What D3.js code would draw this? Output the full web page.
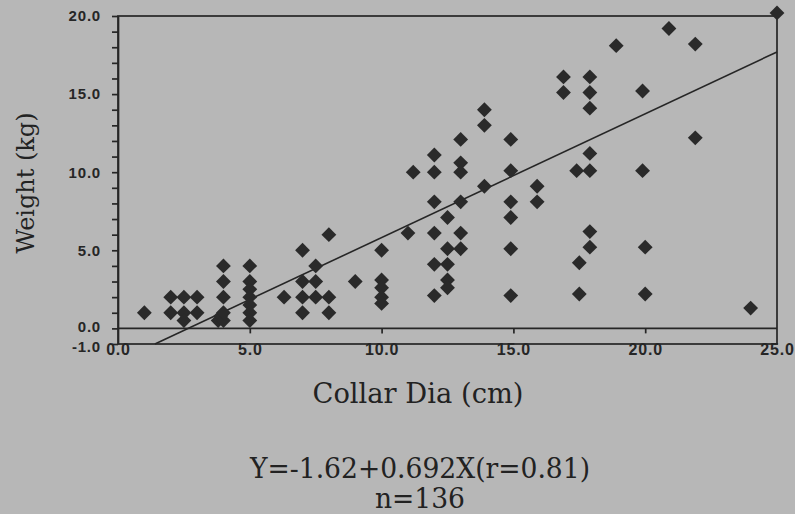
<!DOCTYPE html>
<html lang="en">
<head>
<meta charset="utf-8">
<title>Collar Dia vs Weight</title>
<script src="https://cdn.jsdelivr.net/npm/d3@7"></script>
<style>
  body { margin: 0; background: #b7b7b7; }
  svg { display: block; }
  .axis path, .axis line { stroke: #262626; stroke-width: 1.7; }
  .title { font-family: "DejaVu Serif", "Liberation Serif", serif; fill: #222; }
</style>
</head>
<body>
<script>
// chart values
var collarDia = [1, 2, 2, 2.5, 2.5, 2.5, 3, 3,
  3.8, 3.9, 4, 4, 4, 4, 4,
  5, 5, 5, 5, 5, 5, 5,
  6.3, 7, 7, 7, 7, 7.5, 7.5, 7.5, 8, 8, 8, 9,
  10, 10, 10, 10, 10, 11, 11.2,
  12, 12, 12, 12, 12, 12,
  12.5, 12.5, 12.5, 12.5, 12.5,
  13, 13, 13, 13, 13, 13,
  13.9, 13.9, 13.9,
  14.9, 14.9, 14.9, 14.9, 14.9, 14.9,
  15.9, 15.9, 16.9, 16.9,
  17.4, 17.5, 17.5,
  17.9, 17.9, 17.9, 17.9, 17.9, 17.9, 17.9,
  18.9, 19.9, 19.9, 20, 20, 20.9, 21.9, 21.9, 24, 25];
var weight = [1, 2, 1, 2, 1, 0.5, 2, 1,
  0.5, 0.8, 0.5, 1, 2, 3, 4,
  4, 3, 2.5, 2, 1.5, 1, 0.5,
  2, 5, 3, 2, 1, 4, 3, 2, 6, 2, 1, 3,
  5, 3.1, 2.6, 2, 1.6, 6.1, 10,
  11.1, 10, 8.1, 6.1, 4.1, 2.1,
  7.1, 5.1, 4.1, 3.1, 2.6,
  12.1, 10.6, 10, 8.1, 6.1, 5.1,
  14, 13, 9.1,
  12.1, 10.1, 8.1, 7.1, 5.1, 2.1,
  9.1, 8.1, 16.1, 15.1,
  10.1, 4.2, 2.2,
  16.1, 15.1, 14.1, 11.2, 10.1, 6.2, 5.2,
  18.1, 15.2, 10.1, 5.2, 2.2, 19.2, 18.2, 12.2, 1.3, 20.2];

// fitted line as drawn on the chart
var fitX = [1.4, 25];
var fitY = [-1, 17.7];

var yLabelTicks = [-1, 0, 5, 10, 15, 20];
var xLabelTicks = [0, 5, 10, 15, 20, 25];
var xMarkTicks = [5, 10, 15, 20];

var w = 795, h = 514;
var ink = "#262626";

var svg = d3.select("body").append("svg")
  .attr("width", w)
  .attr("height", h);

svg.append("rect").attr("width", w).attr("height", h).attr("fill", "#b7b7b7");

var xScale = d3.scaleLinear().domain([0, 25]).range([118, 777]);
var yScale = d3.scaleLinear().domain([-1, 20]).range([344, 16]);

// plain hyphen like the print, not the unicode minus
var fmt = function(d) { return d.toFixed(1); };

function styleTicks(g, size) {
  g.selectAll("text")
    .style("font-family", "'Liberation Sans', Arial, sans-serif")
    .style("font-weight", "bold")
    .style("font-size", size + "px")
    .style("letter-spacing", "0.8px")
    .style("fill", ink);
}

// frame
svg.append("rect")
  .attr("x", xScale(0)).attr("y", yScale(20))
  .attr("width", xScale(25) - xScale(0))
  .attr("height", yScale(-1) - yScale(20))
  .attr("fill", "none").attr("stroke", ink).attr("stroke-width", 1.7);

// zero line
svg.append("line")
  .attr("x1", xScale(0)).attr("x2", xScale(25))
  .attr("y1", yScale(0)).attr("y2", yScale(0))
  .attr("stroke", ink).attr("stroke-width", 1.7);

// y axis, a tick every unit, labels at the round ones
var yAxis = d3.axisLeft(yScale)
  .tickValues(d3.range(-1, 21))
  .tickSize(6).tickSizeOuter(0).tickPadding(11)
  .tickFormat(function(d) { return yLabelTicks.indexOf(d) >= 0 ? fmt(d) : ""; });

var yG = svg.append("g").attr("class", "axis")
  .attr("transform", "translate(" + xScale(0) + ",0)")
  .call(yAxis)
  .call(styleTicks, 15);
// the two bottom labels are crowded, nudge them apart a little
yG.selectAll(".tick text")
  .filter(function(d) { return d === -1; }).attr("dy", "0.5em");
yG.selectAll(".tick text")
  .filter(function(d) { return d === 0; }).attr("dy", "0.2em");

// x ticks hang off the zero line
var xAxisMarks = d3.axisBottom(xScale).tickValues(xMarkTicks).tickSize(5).tickFormat("");
svg.append("g").attr("class", "axis")
  .attr("transform", "translate(0," + yScale(0) + ")")
  .call(xAxisMarks)
  .select(".domain").remove();

// x labels sit under the bottom of the frame
var xAxisLabels = d3.axisBottom(xScale).tickValues(xLabelTicks).tickSize(0).tickPadding(0)
  .tickFormat(fmt);
var xLab = svg.append("g").attr("class", "axis")
  .attr("transform", "translate(0," + yScale(-1) + ")")
  .call(xAxisLabels)
  .call(styleTicks, 16);
xLab.select(".domain").remove();

// fitted line
var line = d3.line()
  .x(function(d) { return xScale(d[0]); })
  .y(function(d) { return yScale(d[1]); });
svg.append("path")
  .datum(d3.zip(fitX, fitY))
  .attr("d", line)
  .attr("fill", "none").attr("stroke", ink).attr("stroke-width", 1.6);

// points
var diamond = d3.symbol().type(d3.symbolSquare).size(110);
svg.selectAll(".pt")
  .data(d3.zip(collarDia, weight))
  .enter().append("path")
  .attr("class", "pt")
  .attr("d", diamond)
  .attr("transform", function(d) {
    return "translate(" + xScale(d[0]) + "," + yScale(d[1]) + ") rotate(45)";
  })
  .attr("fill", "#2a2a2a");

// titles
svg.append("text").attr("class", "title")
  .attr("transform", "translate(34,183) rotate(-90)")
  .attr("text-anchor", "middle")
  .attr("font-size", 25)
  .attr("textLength", 141).attr("lengthAdjust", "spacingAndGlyphs")
  .text("Weight (kg)");

svg.append("text").attr("class", "title")
  .attr("x", 418).attr("y", 403)
  .attr("text-anchor", "middle")
  .attr("font-size", 27)
  .attr("textLength", 211).attr("lengthAdjust", "spacingAndGlyphs")
  .text("Collar Dia (cm)");

svg.append("text").attr("class", "title")
  .attr("x", 420).attr("y", 478)
  .attr("text-anchor", "middle")
  .attr("font-size", 27)
  .attr("textLength", 340).attr("lengthAdjust", "spacingAndGlyphs")
  .text("Y=-1.62+0.692X(r=0.81)");

svg.append("text").attr("class", "title")
  .attr("x", 420).attr("y", 508)
  .attr("text-anchor", "middle")
  .attr("font-size", 27)
  .attr("textLength", 90).attr("lengthAdjust", "spacingAndGlyphs")
  .text("n=136");
</script>
</body>
</html>
